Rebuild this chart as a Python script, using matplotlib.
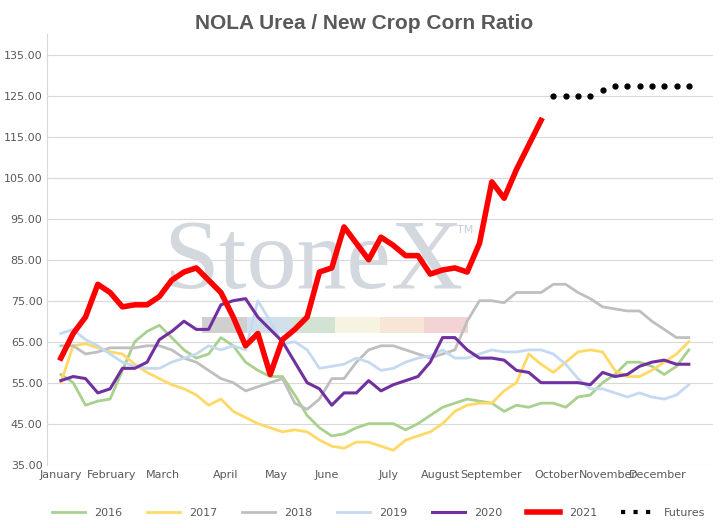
import numpy as np
from matplotlib import pyplot as plt
from matplotlib.lines import Line2D

months = ['January', 'February', 'March', 'April', 'May', 'June', 'July',
          'August', 'September', 'October', 'November', 'December']
month_pos = [0, 4.1, 8.3, 13.4, 17.5, 21.6, 26.6, 30.8, 34.9, 40.3, 44.4, 48.5]

s2016 = [57, 55, 49.5, 50.5, 51, 58, 65, 67.5, 69, 66, 63, 61, 62, 66, 64, 60, 58, 56.5, 56.5, 52,
         47, 44, 42, 42.5, 44, 45, 45, 45, 43.5, 45, 47, 49, 50, 51, 50.5, 50, 48, 49.5, 49, 50,
         50, 49, 51.5, 52, 55, 57, 60, 60, 59, 57, 59, 63]
s2017 = [55, 64, 64.5, 63.5, 62.5, 62, 59.5, 57.5, 56, 54.5, 53.5, 52, 49.5, 51, 48, 46.5, 45, 44, 43, 43.5,
         43, 41, 39.5, 39, 40.5, 40.5, 39.5, 38.5, 41, 42, 43, 45, 48, 49.5, 50, 50, 53, 55, 62, 59.5,
         57.5, 60, 62.5, 63, 62.5, 58, 56.5, 56.5, 58, 60, 62, 65]
s2018 = [64, 64, 62, 62.5, 63.5, 63.5, 63.5, 64, 64, 63, 61, 60, 58, 56, 55, 53, 54, 55, 56, 50,
         48.5, 51, 56, 56, 60, 63, 64, 64, 63, 62, 61, 62, 63, 70, 75, 75, 74.5, 77, 77, 77,
         79, 79, 77, 75.5, 73.5, 73, 72.5, 72.5, 70, 68, 66, 66]
s2019 = [67, 68, 65.5, 64, 62, 60, 59, 58.5, 58.5, 60, 61, 62, 64, 63, 64, 63, 75, 70, 64.5, 65,
         63, 58.5, 59, 59.5, 61, 60, 58, 58.5, 60, 61, 61.5, 63, 61, 61, 62, 63, 62.5, 62.5, 63, 63,
         62, 59.5, 56, 53.5, 53.5, 52.5, 51.5, 52.5, 51.5, 51, 52, 54.5]
s2020 = [55.5, 56.5, 56, 52.5, 53.5, 58.5, 58.5, 60, 65.5, 67.5, 70, 68, 68, 74, 75, 75.5, 71, 68, 65, 60,
         55, 53.5, 49.5, 52.5, 52.5, 55.5, 53, 54.5, 55.5, 56.5, 60, 66, 66, 63, 61, 61, 60.5, 58, 57.5, 55,
         55, 55, 55, 54.5, 57.5, 56.5, 57, 59, 60, 60.5, 59.5, 59.5]
s2021 = [61, 67, 71, 79, 77, 73.5, 74, 74, 76, 80, 82, 83, 80, 77, 71, 64, 67, 57, 65.5, 68,
         71, 82, 83, 93, 89, 85, 90.5, 88.5, 86, 86, 81.5, 82.5, 83, 82, 89, 104, 100, 107, 113, 119]
futures = [125, 125, 125, 125, 126.5, 127.5, 127.5, 127.5, 127.5, 127.5, 127.5, 127.5]

fig = plt.figure(figsize=(7.28, 5.28), dpi=100)
ax = fig.add_axes([0.065, 0.12, 0.915, 0.815])
fig.text(0.5, 0.955, 'NOLA Urea / New Crop Corn Ratio', ha='center', va='center',
         fontsize=15, fontweight='bold', color='#595959', family='Liberation Sans')

# watermark
ax.text(20.5, 84, 'StoneX', fontsize=72, color='#d3d8de', ha='center', va='center',
        family='Liberation Serif', zorder=0)
ax.text(32.2, 91.5, 'TM', fontsize=8, color='#c8ced6', zorder=0)
wm_colors = ['#d0d0d0', '#d2e0ec', '#d2e3d3', '#f6f4e0', '#f7e6d5', '#f3d3d3']
for i, c in enumerate(wm_colors):
    ax.add_patch(plt.Rectangle((11.5 + i * 3.6, 67), 3.6, 4, color=c, zorder=0, lw=0))

x52 = np.arange(52)
ax.plot(x52, s2016, color='#a9d18e', lw=2, label='2016')
ax.plot(x52, s2017, color='#ffd966', lw=2, label='2017')
ax.plot(x52, s2018, color='#bfbfbf', lw=2, label='2018')
ax.plot(x52, s2019, color='#c5d9f1', lw=2, label='2019')
ax.plot(x52, s2020, color='#7030a0', lw=2.2, label='2020')
ax.plot(np.arange(len(s2021)), s2021, color='#ff0000', lw=4, label='2021')
ax.plot(np.arange(40, 52), futures, color='black', ls='none', marker='o', ms=3.5, label='Futures')

ax.set_ylim(35, 140)
ax.set_xlim(-1.1, 53)
ax.set_yticks(np.arange(35, 136, 10))
ax.set_yticklabels([f'{v:.2f}' for v in np.arange(35, 136, 10)], fontsize=8, color='#595959')
ax.set_xticks(month_pos)
ax.set_xticklabels(months, fontsize=8, color='#595959')
ax.tick_params(length=0)
ax.grid(axis='y', color='#d9d9d9', lw=0.8)
ax.set_axisbelow(True)
for sp in ['top', 'right', 'bottom']:
    ax.spines[sp].set_visible(False)
ax.spines['left'].set_color('#d9d9d9')

handles, labels = ax.get_legend_handles_labels()
handles[-1] = Line2D([], [], color='black', ls=(0, (1, 2)), lw=3)
fig.legend(handles, labels, loc='lower center', ncol=7, frameon=False, fontsize=8,
           bbox_to_anchor=(0.52, 0.0), handlelength=3, columnspacing=2.2,
           labelcolor='#595959')
fig.savefig('out.png')
